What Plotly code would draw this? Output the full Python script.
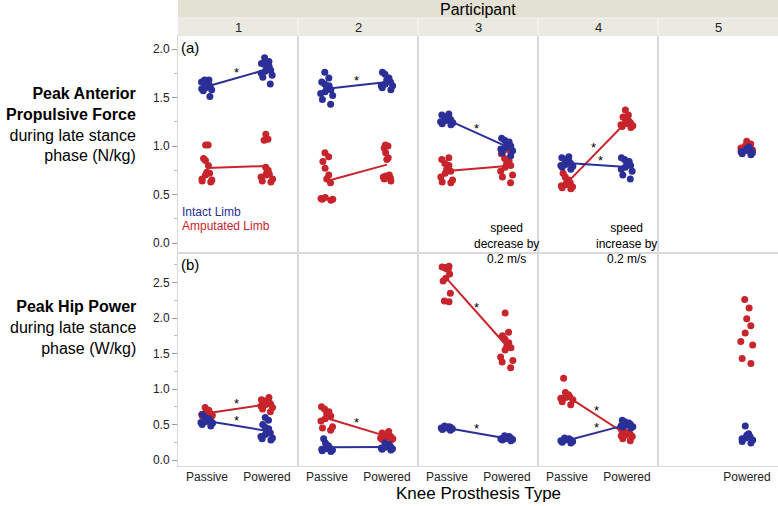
import numpy as np
import plotly.graph_objects as go
from plotly.subplots import make_subplots

participants = ["1", "2", "3", "4", "5"]
knee_types = ["Passive", "Powered"]

# Peak anterior propulsive force (N/kg), one list of trials per participant
force_intact_passive = [
    [1.68, 1.68, 1.66, 1.64, 1.63, 1.62, 1.61, 1.60, 1.59, 1.58, 1.57, 1.51],
    [1.76, 1.70, 1.66, 1.64, 1.62, 1.60, 1.58, 1.56, 1.54, 1.52, 1.48, 1.43],
    [1.33, 1.32, 1.30, 1.29, 1.28, 1.27, 1.26, 1.25, 1.24, 1.23, 1.22],
    [0.89, 0.88, 0.86, 0.84, 0.83, 0.82, 0.81, 0.80, 0.79, 0.78, 0.76],
    [],
]
force_intact_powered = [
    [1.91, 1.87, 1.85, 1.84, 1.82, 1.80, 1.78, 1.77, 1.75, 1.73, 1.71, 1.64],
    [1.76, 1.74, 1.70, 1.68, 1.66, 1.64, 1.62, 1.62, 1.60, 1.58],
    [1.08, 1.06, 1.04, 1.02, 1.00, 0.98, 0.97, 0.95, 0.93, 0.90],
    [0.88, 0.86, 0.84, 0.82, 0.80, 0.78, 0.76, 0.74, 0.70, 0.66],
    [0.99, 0.97, 0.96, 0.95, 0.94, 0.93, 0.92, 0.91],
]
force_amp_passive = [
    [1.01, 1.01, 0.87, 0.85, 0.80, 0.73, 0.72, 0.70, 0.66, 0.65, 0.64, 0.63],
    [0.93, 0.89, 0.84, 0.77, 0.70, 0.66, 0.62, 0.47, 0.46, 0.45, 0.45, 0.44],
    [0.88, 0.86, 0.82, 0.80, 0.76, 0.74, 0.72, 0.68, 0.65, 0.63, 0.62],
    [0.72, 0.68, 0.65, 0.63, 0.62, 0.60, 0.59, 0.58, 0.57, 0.56],
    [],
]
force_amp_powered = [
    [1.12, 1.07, 1.06, 0.78, 0.75, 0.73, 0.71, 0.70, 0.68, 0.66, 0.64, 0.63],
    [1.01, 1.00, 0.98, 0.93, 0.88, 0.86, 0.70, 0.69, 0.68, 0.67, 0.66, 0.64],
    [0.96, 0.92, 0.87, 0.85, 0.82, 0.80, 0.78, 0.74, 0.70, 0.68, 0.62],
    [1.37, 1.32, 1.30, 1.28, 1.26, 1.25, 1.24, 1.23, 1.22, 1.21, 1.20, 1.19],
    [1.05, 1.02, 1.00, 0.98, 0.96, 0.95, 0.93],
]

# Peak hip power (W/kg)
power_intact_passive = [
    [0.64, 0.60, 0.58, 0.56, 0.55, 0.54, 0.53, 0.52, 0.50, 0.48],
    [0.30, 0.24, 0.20, 0.18, 0.17, 0.16, 0.15, 0.14, 0.13, 0.12],
    [0.48, 0.47, 0.46, 0.46, 0.45, 0.45, 0.44, 0.43, 0.42],
    [0.31, 0.30, 0.29, 0.28, 0.28, 0.27, 0.26, 0.25, 0.24],
    [],
]
power_intact_powered = [
    [0.60, 0.56, 0.50, 0.46, 0.44, 0.40, 0.38, 0.36, 0.33, 0.31, 0.30, 0.28],
    [0.24, 0.22, 0.20, 0.19, 0.18, 0.17, 0.16, 0.15, 0.14],
    [0.34, 0.33, 0.32, 0.31, 0.30, 0.30, 0.29, 0.28, 0.27],
    [0.56, 0.54, 0.52, 0.51, 0.50, 0.49, 0.48, 0.47, 0.46, 0.45],
    [0.48, 0.37, 0.35, 0.33, 0.31, 0.30, 0.28, 0.26, 0.24],
]
power_amp_passive = [
    [0.74, 0.70, 0.68, 0.66, 0.65, 0.64, 0.63, 0.62, 0.60],
    [0.75, 0.72, 0.68, 0.65, 0.62, 0.58, 0.55, 0.47, 0.45, 0.42],
    [2.73, 2.72, 2.71, 2.70, 2.69, 2.62, 2.56, 2.52, 2.35, 2.24, 2.23],
    [1.15, 0.95, 0.92, 0.90, 0.89, 0.88, 0.87, 0.85, 0.82, 0.78],
    [],
]
power_amp_powered = [
    [0.88, 0.85, 0.83, 0.81, 0.80, 0.79, 0.78, 0.76, 0.74, 0.72, 0.68],
    [0.40, 0.38, 0.36, 0.35, 0.34, 0.33, 0.32, 0.31, 0.30, 0.29, 0.28],
    [2.07, 1.80, 1.75, 1.70, 1.65, 1.60, 1.58, 1.55, 1.45, 1.40, 1.38, 1.30],
    [0.42, 0.40, 0.38, 0.37, 0.36, 0.35, 0.34, 0.33, 0.30, 0.27],
    [2.26, 2.14, 1.99, 1.89, 1.79, 1.67, 1.62, 1.43, 1.36],
]

# significant passive vs powered difference (asterisk)
sig_force_intact = [1, 1, 1, 1, 0]
sig_force_amp = [0, 0, 0, 1, 0]
sig_power_intact = [1, 0, 1, 1, 0]
sig_power_amp = [1, 1, 1, 1, 0]

BLUE = "#2b2f97"
RED = "#c8242c"
FONT = "Liberation Sans, Arial, sans-serif"
BORDER = "#d9d9d9"

fig = make_subplots(rows=2, cols=5, horizontal_spacing=0, vertical_spacing=0,
                    row_heights=[217, 213])

rows = [
    (1, [(force_amp_passive, force_amp_powered, sig_force_amp, RED),
         (force_intact_passive, force_intact_powered, sig_force_intact, BLUE)]),
    (2, [(power_amp_passive, power_amp_powered, sig_power_amp, RED),
         (power_intact_passive, power_intact_powered, sig_power_intact, BLUE)]),
]

for row, limbs in rows:
    for passive, powered, sig, color in limbs:
        for i in range(len(participants)):
            col = i + 1
            groups = [passive[i], powered[i]]
            for k, vals in enumerate(groups):
                if not vals:
                    continue
                fig.add_trace(go.Box(
                    x=[k] * len(vals), y=vals,
                    boxpoints="all", jitter=0.9, pointpos=0, width=0.28,
                    fillcolor="rgba(0,0,0,0)",
                    line=dict(color="rgba(0,0,0,0)", width=0),
                    marker=dict(color=color, size=7),
                    showlegend=False, hoverinfo="y",
                ), row=row, col=col)
            if passive[i] and powered[i]:
                means = [np.mean(passive[i]), np.mean(powered[i])]
                fig.add_trace(go.Scatter(
                    x=[0, 1], y=means, mode="lines",
                    line=dict(color=color, width=2),
                    showlegend=False, hoverinfo="skip",
                ), row=row, col=col)
                if sig[i]:
                    n = (row - 1) * 5 + col
                    # crossing lines in panel (a)-4: pull the two stars apart
                    dx = 0
                    if row == 1 and col == 4:
                        dx = -3 if color == RED else 4
                    fig.add_annotation(
                        x=0.5, y=np.mean(means), xref=f"x{n}", yref=f"y{n}",
                        text="*", showarrow=False, yshift=5, xshift=dx,
                        font=dict(size=13, color="black", family=FONT))

# axes
for r in (1, 2):
    for c in range(1, 6):
        has = [k for k, t in enumerate(knee_types)
               if (force_intact_passive if k == 0 else force_intact_powered)[c - 1]]
        fig.update_xaxes(
            range=[-0.483, 1.517], showgrid=False, zeroline=False,
            showline=True, mirror=True, linecolor=BORDER, linewidth=1,
            ticks="", tickvals=has, ticktext=[knee_types[k] for k in has],
            showticklabels=(r == 2),
            tickfont=dict(size=12, color="#222", family=FONT),
            row=r, col=c)
        fig.update_yaxes(
            range=[-0.103, 2.134] if r == 1 else [-0.0845, 2.916],
            dtick=0.5, tickformat=".1f", showgrid=False, zeroline=False,
            showline=True, mirror=True, linecolor=BORDER, linewidth=1,
            ticks="outside" if c == 1 else "", ticklen=5, tickcolor="#999",
            minor=dict(ticks="outside" if c == 1 else "", ticklen=3,
                       dtick=0.25, tickcolor="#bbb"),
            showticklabels=(c == 1),
            tickfont=dict(size=12, color="#222", family=FONT),
            row=r, col=c)

# header bands
h = 18 / 430
fig.add_shape(type="rect", xref="paper", yref="paper", x0=0, x1=1,
              y0=1 + h, y1=1 + 2 * h, fillcolor="#e2e1d3", line_width=0)
fig.add_shape(type="rect", xref="paper", yref="paper", x0=0, x1=1,
              y0=1, y1=1 + h, fillcolor="#ebeae2", line_width=0)
fig.add_shape(type="line", xref="paper", yref="paper", x0=0, x1=1,
              y0=1 + h, y1=1 + h, line=dict(color="#f4f4ef", width=1))
for c in range(1, 5):
    fig.add_shape(type="line", xref="paper", yref="paper", x0=c / 5, x1=c / 5,
                  y0=1, y1=1 + h, line=dict(color="#f8f8f4", width=1))
fig.add_annotation(x=0.5, y=1 + 1.5 * h, xref="paper", yref="paper",
                   xanchor="center", yanchor="middle",
                   text="Participant", showarrow=False,
                   font=dict(size=16, color="black", family=FONT))
for c, p in enumerate(participants):
    fig.add_annotation(x=(c + 0.5) / 5, y=1 + 0.5 * h, xref="paper", yref="paper",
                       xanchor="center", yanchor="middle",
                       text=p, showarrow=False,
                       font=dict(size=13, color="#222", family=FONT))

# row titles
fig.add_annotation(
    x=-0.0667, y=0.795, xref="paper", yref="paper", xanchor="right",
    yanchor="middle", align="right", showarrow=False,
    text="<b>Peak Anterior</b><br><b>Propulsive Force</b><br>during late stance<br>phase (N/kg)",
    font=dict(size=16, color="black", family=FONT))
fig.add_annotation(
    x=-0.0667, y=0.323, xref="paper", yref="paper", xanchor="right",
    yanchor="middle", align="right", showarrow=False,
    text="<b>Peak Hip Power</b><br>during late stance<br>phase (W/kg)",
    font=dict(size=16, color="black", family=FONT))
fig.add_annotation(
    x=0.5, y=-0.065, xref="paper", yref="paper", xanchor="center",
    yanchor="middle", showarrow=False,
    text="Knee Prosthesis Type", font=dict(size=17, color="black", family=FONT))

# panel labels and notes
fig.add_annotation(x=0.01, y=0.995, xref="x domain", yref="y domain",
                   xanchor="left", yanchor="top", text="(a)", showarrow=False,
                   font=dict(size=15, color="black", family=FONT))
fig.add_annotation(x=0.01, y=0.995, xref="x6 domain", yref="y6 domain",
                   xanchor="left", yanchor="top", text="(b)", showarrow=False,
                   font=dict(size=15, color="black", family=FONT))
fig.add_annotation(x=0.02, y=0.19, xref="x domain", yref="y domain",
                   xanchor="left", yanchor="middle", text="Intact Limb",
                   showarrow=False, font=dict(size=12, color=BLUE, family=FONT))
fig.add_annotation(x=0.02, y=0.125, xref="x domain", yref="y domain",
                   xanchor="left", yanchor="middle", text="Amputated Limb",
                   showarrow=False, font=dict(size=12, color=RED, family=FONT))
fig.add_annotation(x=1, y=0, xref="x3", yref="y3", showarrow=False,
                   xanchor="center", yanchor="middle",
                   text="speed<br>decrease by<br>0.2 m/s",
                   font=dict(size=12, color="black", family=FONT))
fig.add_annotation(x=1, y=0, xref="x4", yref="y4", showarrow=False,
                   xanchor="center", yanchor="middle",
                   text="speed<br>increase by<br>0.2 m/s",
                   font=dict(size=12, color="black", family=FONT))

fig.update_layout(
    width=778, height=506,
    margin=dict(l=178, r=0, t=36, b=40),
    plot_bgcolor="white", paper_bgcolor="white",
    boxmode="overlay", showlegend=False,
    font=dict(family=FONT),
)

# drop the browser's default page margin so the figure fills the window
fig.write_html("out.html", config={"displayModeBar": False},
               post_script="document.body.style.margin='0px';")
